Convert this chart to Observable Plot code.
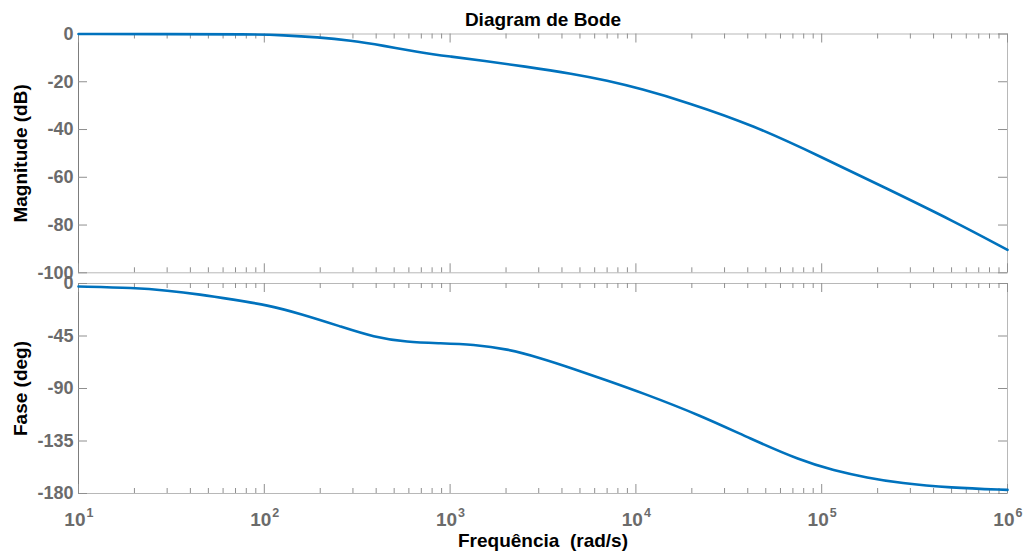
<!DOCTYPE html>
<html>
<head>
<meta charset="utf-8">
<script src="https://cdn.jsdelivr.net/npm/d3@7"></script>
<script src="https://cdn.jsdelivr.net/npm/@observablehq/plot@0.6"></script>
<style>
html, body { margin: 0; padding: 0; background: #fff; }
#chart { position: relative; width: 1024px; height: 555px; overflow: hidden; background: #fff; }
#chart svg { position: absolute; left: 0; top: 0; }
</style>
</head>
<body>
<div id="chart"></div>
<script>
// ---- data ----
const magFreq = [10, 30, 84, 127, 193, 291, 440, 665, 1005, 1518, 2483, 4614, 7000, 10590, 18900, 43100, 98400, 224900, 514000, 1000000];
const magDb   = [-0.02, -0.05, -0.1, -0.5, -1.3, -2.7, -4.9, -7.5, -9.5, -11.2, -13.5, -16.7, -19.5, -22.9, -28.6, -38.3, -51.3, -64.8, -78.4, -90.4];

const phaseFreq = [10, 20, 30, 45, 68, 104, 157, 257, 388, 587, 887, 1337, 2020, 3050, 4620, 6990, 10590, 22300, 41400, 76900, 116000, 175800, 265000, 493000, 1000000];
const phaseDeg  = [-2.6, -3.7, -6.0, -9.4, -13.8, -18.5, -26.0, -36.8, -46.0, -50.3, -51.2, -52.3, -56.0, -63.7, -73.1, -83.1, -93.2, -113.1, -133.1, -151.7, -160.3, -166.5, -171.2, -175.1, -176.9];

const magTicks = [0, -20, -40, -60, -80, -100];
const phaseTicks = [0, -45, -90, -135, -180];
const decadeExponents = [1, 2, 3, 4, 5, 6];
const minorMultipliers = [2, 3, 4, 5, 6, 7, 8, 9];

const titleText = "Diagram de Bode";
const magLabel = "Magnitude (dB)";
const phaseLabel = "Fase (deg)";
const freqLabel = "Frequência  (rad/s)";

// ---- layout / style ----
const W = 1024, H = 555;
const ML = 78, MR = 17;
const FW = W - ML - MR;
const TOP1 = 33.5, BOT1 = 272.3;
const TOP2 = 283, BOT2 = 493;
const FH1 = BOT1 - TOP1, FH2 = BOT2 - TOP2;
const FONT = "'Liberation Sans', Arial, Helvetica, sans-serif";
const TICK = "#8f8f8f", BOX = "#b8b8b8", AXIS = "#7d7d7d", LABEL = "#6b6b6b";
const BLUE = "#0072BD";

const majorX = decadeExponents.map(e => Math.pow(10, e));
const minorX = decadeExponents.slice(0, -1).flatMap(e => minorMultipliers.map(m => m * Math.pow(10, e)));

function xTicks(fh) {
  return [
    Plot.ruleX(majorX, {x: d => d, insetTop: fh - 9, stroke: TICK}),
    Plot.ruleX(majorX, {x: d => d, insetBottom: fh - 9, stroke: TICK}),
    Plot.ruleX(minorX, {x: d => d, insetTop: fh - 5, stroke: TICK}),
    Plot.ruleX(minorX, {x: d => d, insetBottom: fh - 5, stroke: TICK})
  ];
}
function yTicks(values) {
  return [
    Plot.ruleY(values, {y: d => d, insetRight: FW - 9, stroke: TICK}),
    Plot.ruleY(values, {y: d => d, insetLeft: FW - 9, stroke: TICK})
  ];
}
const tickLabelStyle = {fontSize: 18, fontWeight: "bold", fontFamily: FONT, fill: LABEL};
const labelStyle = {fontSize: 19, fontWeight: "bold", fontFamily: FONT, fill: "#000", lineAnchor: "middle", textAnchor: "middle"};
const svgStyle = {background: "transparent", overflow: "visible", fontFamily: FONT};

const magData = magFreq.map((f, i) => ({f, v: magDb[i]}));
const phaseData = phaseFreq.map((f, i) => ({f, v: phaseDeg[i]}));

const plot1 = Plot.plot({
  width: W, height: H,
  marginLeft: ML, marginRight: MR, marginTop: TOP1, marginBottom: H - BOT1,
  style: svgStyle,
  x: {type: "log", domain: [10, 1e6], axis: null},
  y: {domain: [-100, 0]},
  marks: [
    Plot.frame({stroke: BOX}),
    Plot.ruleX([10], {stroke: AXIS}),
    ...xTicks(FH1),
    ...yTicks(magTicks),
    Plot.axisY(magTicks, {tickSize: 0, tickPadding: 5, tickFormat: d => String(d), label: null, ...tickLabelStyle}),
    Plot.text([magLabel], {text: d => d, frameAnchor: "left", dx: -57.4, rotate: -90, ...labelStyle}),
    Plot.text([titleText], {text: d => d, frameAnchor: "top", dy: -13.6, ...labelStyle}),
    Plot.line(magData, {x: "f", y: "v", stroke: BLUE, strokeWidth: 2.6, curve: "basis"})
  ]
});

const plot2 = Plot.plot({
  width: W, height: H,
  marginLeft: ML, marginRight: MR, marginTop: TOP2, marginBottom: H - BOT2,
  style: svgStyle,
  x: {type: "log", domain: [10, 1e6], axis: null},
  y: {domain: [-180, 0]},
  marks: [
    Plot.frame({stroke: BOX}),
    Plot.ruleX([10], {stroke: AXIS}),
    ...xTicks(FH2),
    ...yTicks(phaseTicks),
    Plot.axisY(phaseTicks, {tickSize: 0, tickPadding: 5, tickFormat: d => String(d), label: null, ...tickLabelStyle}),
    Plot.text(majorX, {x: d => d, text: d => "10", frameAnchor: "bottom", lineAnchor: "middle", textAnchor: "end", dx: 7, dy: 26,
      fontSize: 19, fontWeight: "bold", fontFamily: FONT, fill: LABEL}),
    Plot.text(majorX, {x: d => d, text: d => String(Math.round(Math.log10(d))), frameAnchor: "bottom", lineAnchor: "middle", textAnchor: "start", dx: 8, dy: 19.2,
      fontSize: 12.5, fontWeight: "bold", fontFamily: FONT, fill: LABEL}),
    Plot.text([phaseLabel], {text: d => d, frameAnchor: "left", dx: -57.4, rotate: -90, ...labelStyle}),
    Plot.text([freqLabel], {text: d => d, frameAnchor: "bottom", dy: 47.9, ...labelStyle}),
    Plot.line(phaseData, {x: "f", y: "v", stroke: BLUE, strokeWidth: 2.6, curve: "basis"})
  ]
});

const chart = document.getElementById("chart");
chart.appendChild(plot1);
chart.appendChild(plot2);
</script>
</body>
</html>
